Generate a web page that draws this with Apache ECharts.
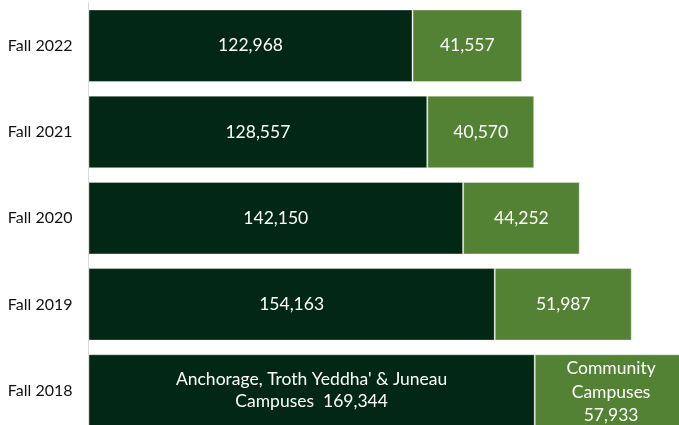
<!DOCTYPE html>
<html><head><meta charset="utf-8">
<script src="https://cdn.jsdelivr.net/npm/echarts@6/dist/echarts.min.js"></script>
<style>html,body{margin:0;padding:0;background:#fff}#c{width:679px;height:425px}</style>
</head><body><div id="c"></div>
<script>
const categories = ['Fall 2022','Fall 2021','Fall 2020','Fall 2019','Fall 2018'];
const mainCampuses = [122968, 128557, 142150, 154163, 169344];
const communityCampuses = [41557, 40570, 44252, 51987, 57933];
const mainName = "Anchorage, Troth Yeddha' & Juneau\nCampuses";
const communityName = "Community\nCampuses";

const fmt = v => v.toLocaleString('en-US');
const font = 'Lato, "Open Sans", sans-serif';

function build(values, name, spacer, lh, dy) {
  return values.map((v, i) => {
    const item = { value: v };
    if (i === values.length - 1) {
      item.label = { formatter: name + spacer + fmt(v), lineHeight: lh, offset: [0, dy] };
    }
    return item;
  });
}

const chart = echarts.init(document.getElementById('c'));
chart.setOption({
  animation: false,
  grid: { left: 88.5, top: 2.65, width: 610.3, height: 431, outerBoundsMode: 'none', containLabel: false },
  xAxis: { type: 'value', min: 0, max: 231600, show: false, splitLine: { show: false } },
  yAxis: {
    type: 'category', data: categories, inverse: true,
    axisLine: { show: true, lineStyle: { color: '#d9d9d9', width: 1 } },
    axisTick: { show: false },
    axisLabel: { color: '#111', fontSize: 16, fontFamily: font, margin: 16 }
  },
  series: [
    {
      type: 'bar', stack: 'a', barWidth: 72.5,
      data: build(mainCampuses, mainName, '  ', 22, 0),
      itemStyle: { color: '#022815', borderColor: 'rgba(255,255,255,0.35)', borderWidth: 1 },
      label: { show: true, position: 'inside', color: '#fff', fontSize: 17.5, fontFamily: font, formatter: p => fmt(p.value) }
    },
    {
      type: 'bar', stack: 'a', barWidth: 72.5,
      data: build(communityCampuses, communityName, '\n', 23.5, 1.5),
      itemStyle: { color: '#548235', borderColor: 'rgba(255,255,255,0.35)', borderWidth: 1 },
      label: { show: true, position: 'inside', color: '#fff', fontSize: 17.5, fontFamily: font, formatter: p => fmt(p.value) }
    }
  ]
});
</script></body></html>
